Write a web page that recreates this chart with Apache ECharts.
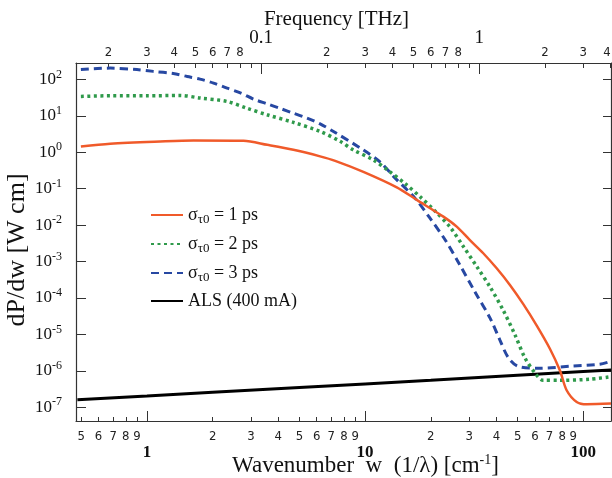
<!DOCTYPE html>
<html><head><meta charset="utf-8">
<script src="https://cdn.jsdelivr.net/npm/echarts@6/dist/echarts.min.js"></script>
<style>html,body{margin:0;padding:0;background:#fff}#c{width:612px;height:478px}</style>
</head><body><div id="c"></div>
<script>
// ---- data (wavenumber in cm^-1, dP/dw in W cm) ----
const redW   = [0.498, 0.679, 1.15, 1.635, 2.77, 3.56, 4.69, 6.22, 7.29, 9.82, 13.97, 17.25, 22.84, 26.3, 30.3, 34.8, 40.1, 46.2, 53.1, 61.2, 70.4, 78.2, 83.9, 93.3, 103.7, 134];
const redV   = [1.44, 1.71, 1.97, 2.10, 2.07, 1.60, 1.17, 0.773, 0.582, 0.29, 0.109, 0.0492, 0.0171, 0.00908, 0.00383, 0.00169, 6.52e-4, 2.24e-4, 6.76e-5, 1.74e-5, 3.98e-6, 1.02e-6, 2.94e-7, 1.40e-7, 1.21e-7, 1.26e-7];
const greenW = [0.498, 0.679, 1.0, 1.42, 1.75, 2.33, 2.87, 3.55, 4.69, 6.22, 7.68, 8.81, 10.9, 13.0, 15.3, 17.9, 20.9, 24.5, 28.1, 32.6, 37.4, 42.9, 48.7, 54.1, 60.1, 65.4, 78.2, 107, 134];
const greenV = [34.1, 35.5, 35.5, 36.3, 30.9, 24.8, 16.2, 10.7, 6.61, 3.72, 2.0, 1.17, 0.619, 0.290, 0.136, 0.0596, 0.0245, 0.00891, 0.00268, 7.08e-4, 2.0e-4, 4.68e-5, 9.55e-6, 2.24e-6, 8.71e-7, 5.5e-7, 5.5e-7, 5.9e-7, 6.9e-7];
const blueW  = [0.498, 0.679, 0.90, 1.07, 1.32, 1.53, 1.75, 2.02, 2.33, 2.68, 3.08, 3.55, 4.08, 4.69, 5.41, 6.22, 7.16, 9.79, 11.7, 13.7, 16.9, 19.8, 23.3, 27.2, 31.9, 37.4, 41.5, 45.2, 50.2, 63.3, 87.0, 119, 134];
const blueV  = [186, 204, 186, 166, 145, 120, 102, 79.4, 57.5, 42.7, 28.8, 21.4, 16.0, 11.8, 8.71, 6.03, 3.72, 1.17, 0.546, 0.198, 0.0558, 0.0157, 0.00391, 8.04e-4, 1.46e-4, 2.81e-5, 6.97e-6, 2.37e-6, 1.34e-6, 1.18e-6, 1.34e-6, 1.52e-6, 1.84e-6];
const alsW   = [0.48, 1, 2, 5, 10, 20, 50, 100, 134];
const alsV   = [1.62e-7, 2.04e-7, 2.57e-7, 3.47e-7, 4.37e-7, 5.5e-7, 7.59e-7, 9.55e-7, 1.05e-6];

const seriesNames = ['σ1', 'σ2', 'σ3', 'ALS'];
const legendTexts = ['{a|σ}{b|τ0}{a| = 1 ps}', '{a|σ}{b|τ0}{a| = 2 ps}', '{a|σ}{b|τ0}{a| = 3 ps}', '{a|ALS (400 mA)}'];

// ---- ticks ----
const bottomMinorTicks  = [0.5,0.6,0.7,0.8,0.9, 2,3,4,5,6,7,8,9, 20,30,40,50,60,70,80,90];
const bottomMinorLabels = ['5','6','7','8','9','2','3','4','5','6','7','8','9','2','3','4','5','6','7','8','9'];
const bottomMajorTicks  = [1, 10, 100];
const bottomMajorLabels = ['1', '10', '100'];
const topMinorTicks  = [0.02,0.03,0.04,0.05,0.06,0.07,0.08,0.09, 0.2,0.3,0.4,0.5,0.6,0.7,0.8,0.9, 2,3,4];
const topMinorLabels = ['2','3','4','5','6','7','8','', '2','3','4','5','6','7','8','', '2','3','4'];
const topMajorTicks  = [0.1, 1];
const topMajorLabels = ['0.1', '1'];
const yTicks  = [1e-7,1e-6,1e-5,1e-4,1e-3,1e-2,1e-1,1,10,100];
const yExps   = ['-7','-6','-5','-4','-3','-2','-1','0','1','2'];

const W_MIN = 0.473, W_MAX = 134, THZ_PER_INV_CM = 0.029979;
const Y_MIN = 4.2e-8, Y_MAX = 282;

const SERIF = "'Liberation Serif','Times New Roman',serif";
const NARROW = "'Liberation Sans Narrow','Arial Narrow','DejaVu Sans Condensed',sans-serif";
const FRAME = '#333';

function lookup(ticks, labels) {
  return function (v) {
    for (let i = 0; i < ticks.length; i++) {
      if (Math.abs(Math.log10(ticks[i]) - Math.log10(v)) < 1e-6) return labels[i];
    }
    return '';
  };
}
function zip(a, b) { return a.map((x, i) => [x, b[i]]); }

const chart = echarts.init(document.getElementById('c'), null, {renderer: 'canvas'});

const baseLog = {type: 'log', logBase: 10, gridIndex: 0, nameMoveOverlap: false, splitLine: {show: false}, minorTick: {show: false}, minorSplitLine: {show: false}};

const option = {
  backgroundColor: '#fff',
  animation: false,
  grid: {left: 76, right: 1, top: 63, bottom: 57, containLabel: false, outerBoundsMode: 'none'},
  xAxis: [
    Object.assign({}, baseLog, {
      position: 'bottom', min: W_MIN, max: W_MAX,
      axisLine: {show: true, lineStyle: {color: FRAME, width: 1.2}},
      axisTick: {show: true, inside: true, length: 4, customValues: bottomMinorTicks, lineStyle: {color: FRAME}},
      axisLabel: {customValues: bottomMinorTicks, formatter: lookup(bottomMinorTicks, bottomMinorLabels), margin: 9, fontSize: 13, fontFamily: NARROW, color: '#222'}
    }),
    Object.assign({}, baseLog, {
      position: 'bottom', min: W_MIN, max: W_MAX,
      axisLine: {show: false},
      axisTick: {show: true, inside: true, length: 10, customValues: bottomMajorTicks, lineStyle: {color: FRAME}},
      axisLabel: {customValues: bottomMajorTicks, formatter: lookup(bottomMajorTicks, bottomMajorLabels), margin: 23, fontSize: 17, fontWeight: 'bold', fontFamily: SERIF, color: '#111'},
      name: '{t|Wavenumber  w  (1/λ) [cm}{s|-1}{t|]}', nameLocation: 'middle', nameGap: 32,
      nameTextStyle: {padding: [0, 0, 0, 44], rich: {t: {fontSize: 23, fontFamily: SERIF, color: '#111'}, s: {fontSize: 14, fontFamily: SERIF, color: '#111', padding: [0, 0, 12, 0]}}}
    }),
    Object.assign({}, baseLog, {
      position: 'top', min: W_MIN * THZ_PER_INV_CM, max: W_MAX * THZ_PER_INV_CM,
      axisLine: {show: true, lineStyle: {color: FRAME, width: 1.2}},
      axisTick: {show: true, inside: true, length: 5, customValues: topMinorTicks, lineStyle: {color: FRAME}},
      axisLabel: {customValues: topMinorTicks, formatter: lookup(topMinorTicks, topMinorLabels), margin: 4, fontSize: 13, fontFamily: NARROW, color: '#222', alignMaxLabel: 'right'}
    }),
    Object.assign({}, baseLog, {
      position: 'top', min: W_MIN * THZ_PER_INV_CM, max: W_MAX * THZ_PER_INV_CM,
      axisLine: {show: false},
      axisTick: {show: true, inside: true, length: 11, customValues: topMajorTicks, lineStyle: {color: FRAME}},
      axisLabel: {customValues: topMajorTicks, formatter: lookup(topMajorTicks, topMajorLabels), margin: 15, fontSize: 19, fontFamily: SERIF, color: '#111'},
      name: 'Frequency [THz]', nameLocation: 'middle', nameGap: 33,
      nameTextStyle: {fontSize: 21, fontFamily: SERIF, color: '#111', padding: [0, 14, 0, 0]}
    })
  ],
  yAxis: [
    Object.assign({}, baseLog, {
      position: 'left', min: Y_MIN, max: Y_MAX,
      axisLine: {show: true, lineStyle: {color: FRAME, width: 1.2}},
      axisTick: {show: true, inside: true, length: 10, customValues: yTicks, lineStyle: {color: FRAME}},
      axisLabel: {customValues: yTicks, margin: 14, color: '#111',
        formatter: function (v) { return '{b|10}{s|' + lookup(yTicks, yExps)(v) + '}'; },
        rich: {b: {fontSize: 17, fontFamily: SERIF, color: '#111'}, s: {fontSize: 12, fontFamily: SERIF, color: '#111', padding: [0, 0, 10, 0]}}},
      name: 'dP/dw [W cm]', nameLocation: 'middle', nameGap: 46,
      nameTextStyle: {fontSize: 26, fontFamily: SERIF, color: '#111', padding: [0, 16, 0, 0]}
    }),
    Object.assign({}, baseLog, {
      position: 'right', min: Y_MIN, max: Y_MAX,
      axisLine: {show: true, lineStyle: {color: FRAME, width: 1.2}},
      axisTick: {show: true, inside: true, length: 8, customValues: yTicks, lineStyle: {color: FRAME}},
      axisLabel: {show: false}
    })
  ],
  legend: [0, 1, 2, 3].map(function (i) {
    return {
      data: [seriesNames[i]], left: 150, top: [206, 235, 264, 292][i], orient: 'vertical',
      itemWidth: 32, itemHeight: 14, padding: 0, selectedMode: false,
      itemStyle: {opacity: 0},
      formatter: function () { return legendTexts[i]; },
      textStyle: {rich: {a: {fontSize: 18, fontFamily: SERIF, color: '#111'}, b: {fontSize: 13, fontFamily: SERIF, color: '#111', padding: [9, 0, 0, 0]}}}
    };
  }),
  series: [
    {name: seriesNames[3], type: 'line', data: zip(alsW, alsV), showSymbol: false, symbol: 'none', smooth: false, lineStyle: {color: '#000', width: 3}, itemStyle: {color: '#000'}, z: 2},
    {name: seriesNames[2], type: 'line', data: zip(blueW, blueV), showSymbol: false, symbol: 'none', smooth: 0.3, lineStyle: {color: '#2748a2', width: 3, type: [8, 5]}, itemStyle: {color: '#2748a2'}, z: 3},
    {name: seriesNames[1], type: 'line', data: zip(greenW, greenV), showSymbol: false, symbol: 'none', smooth: 0.3, lineStyle: {color: '#2f9a4b', width: 3.5, type: [3, 3.5]}, itemStyle: {color: '#2f9a4b'}, z: 4},
    {name: seriesNames[0], type: 'line', data: zip(redW, redV), showSymbol: false, symbol: 'none', smooth: 0.3, lineStyle: {color: '#f05a2a', width: 2.5}, itemStyle: {color: '#f05a2a'}, z: 5}
  ]
};
chart.setOption(option);
</script>
</body></html>
